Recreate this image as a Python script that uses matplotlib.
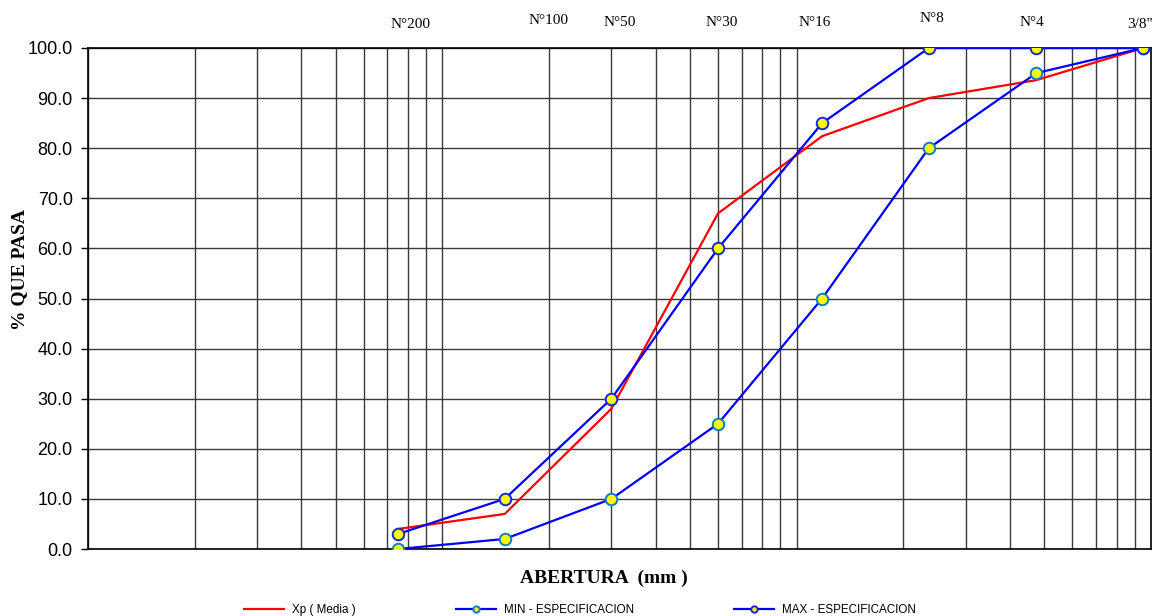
import numpy as np
import matplotlib
matplotlib.use('Agg')
import matplotlib.pyplot as plt
from matplotlib.ticker import FormatStrFormatter, NullFormatter

# sieve openings (mm) and names
tamiz = ['N°200', 'N°100', 'N°50', 'N°30', 'N°16', 'N°8', 'N°4', '3/8"']
abertura = [0.075, 0.15, 0.30, 0.60, 1.18, 2.36, 4.75, 9.50]

# % passing
xp_media = [4.0, 7.0, 28.0, 67.0, 82.4, 90.0, 93.6, 100.0]
min_espec = [0.0, 2.0, 10.0, 25.0, 50.0, 80.0, 95.0, 100.0]
max_espec = [3.0, 10.0, 30.0, 60.0, 85.0, 100.0, 100.0, 100.0]

# where the sieve names sit above the frame (pixels)
tamiz_px = [(411, 24), (549, 20), (620, 22), (722, 22), (815, 22), (932, 19), (1032, 22), (1140, 24)]

W, H = 1156, 616
fig = plt.figure(figsize=(W / 100, H / 100), dpi=100)
ax = fig.add_axes([88 / W, 1 - 549 / H, (1151 - 88) / W, (549 - 48) / H])

ax.plot(abertura, xp_media, color='#FF0000', lw=1.6, label='Xp ( Media )', zorder=3)
ax.plot(abertura, min_espec, color='#0000FF', lw=1.6, marker='o', ms=8.3,
        mfc='#FFFF00', mec='#0A7CC8', mew=1.4, label='MIN - ESPECIFICACION', zorder=4)
ax.plot(abertura, max_espec, color='#0000FF', lw=1.6, marker='o', ms=8.3,
        mfc='#FFFF00', mec='#1428E0', mew=1.4, label='MAX - ESPECIFICACION', zorder=4)

ax.set_xscale('log')
ax.set_xlim(0.01, 10)
ax.set_ylim(0, 100)

# log grid 1..9 per decade
xg = [m * 10.0 ** k for k in (-2, -1, 0) for m in range(1, 10)]
ax.set_xticks(xg)
ax.set_xticks([], minor=True)
ax.xaxis.set_major_formatter(NullFormatter())
ax.tick_params(axis='x', length=0)
ax.set_yticks(np.arange(0, 101, 10))
ax.yaxis.set_major_formatter(FormatStrFormatter('%.1f'))
ax.tick_params(axis='y', direction='out', length=5, width=1, labelsize=13, pad=6)
for t in ax.get_yticklabels():
    t.set_family('Liberation Sans')
ax.grid(True, color='#3a3a3a', lw=1.0)
for s in ax.spines.values():
    s.set_linewidth(1.2)
    s.set_color('black')

for name, (px, py) in zip(tamiz, tamiz_px):
    fig.text(px / W, 1 - py / H, name, ha='center', va='center',
             family='Liberation Serif', fontsize=11)

fig.text(20 / W, 1 - 270 / H, '% QUE PASA', rotation=90, ha='center', va='center',
         family='Liberation Serif', fontweight='bold', fontsize=14)
fig.text(604 / W, 1 - 578 / H, 'ABERTURA  (mm )', ha='center', va='center',
         family='Liberation Serif', fontweight='bold', fontsize=14)

fig.legend(loc='center', bbox_to_anchor=(580 / W, 1 - 610 / H), ncol=3, frameon=False,
           prop={'family': 'Liberation Sans', 'size': 8.4}, columnspacing=8.6,
           handlelength=3.4, handletextpad=0.7, markerscale=0.55)

fig.savefig('out.png', dpi=100)
